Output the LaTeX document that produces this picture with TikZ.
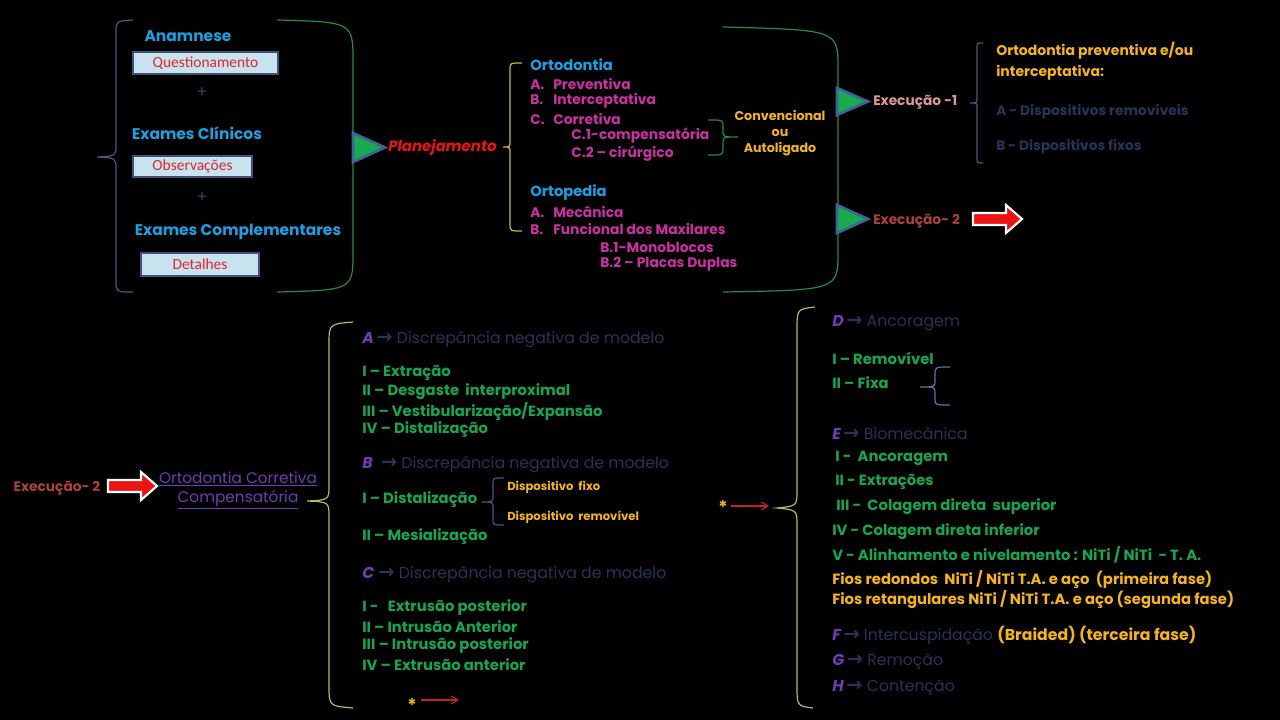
\documentclass[tikz,border=0pt]{standalone}
\usepackage{fontspec}
\setmainfont{Poppins}
\newfontfamily\calibfont{Carlito}
\newfontfamily\djvfont{DejaVu Sans}
\usetikzlibrary{arrows.meta}
\definecolor{cyanh}{RGB}{28,160,225}
\definecolor{boxfill}{RGB}{200,226,240}
\definecolor{boxline}{RGB}{62,82,120}
\definecolor{boxred}{RGB}{222,40,40}
\definecolor{plusc}{RGB}{50,70,100}
\definecolor{bgray}{RGB}{70,90,125}
\definecolor{gline}{RGB}{40,140,60}
\definecolor{trifill}{RGB}{25,170,80}
\definecolor{triline}{RGB}{60,100,150}
\definecolor{planred}{RGB}{232,20,20}
\definecolor{ybrace}{RGB}{190,190,50}
\definecolor{mag}{RGB}{200,50,160}
\definecolor{orng}{RGB}{245,180,30}
\definecolor{exone}{RGB}{220,150,150}
\definecolor{extwo}{RGB}{170,65,60}
\definecolor{navy}{RGB}{38,52,88}
\definecolor{purp}{RGB}{112,60,180}
\definecolor{gtext}{RGB}{25,165,80}
\definecolor{bbrace}{RGB}{170,190,100}
\definecolor{fbrace}{RGB}{80,120,170}
\definecolor{arrred}{RGB}{235,20,20}
\definecolor{lnred}{RGB}{200,30,40}
\newcommand\myarr{{\djvfont\bfseries\fontsize{14.5}{14}\selectfont\char"2192}}
\newcommand\lbl[1]{\makebox[17.25pt][l]{#1}}
\newcommand\redblock[2]{\filldraw[fill=arrred, draw=white, line width=1.6pt, line join=miter] (#1,#2-6) -- (#1+33,#2-6) -- (#1+33,#2-14) -- (#1+49,#2) -- (#1+33,#2+14) -- (#1+33,#2+6) -- (#1,#2+6) -- cycle;}
\begin{document}
\begin{tikzpicture}[x=0.75pt,y=-0.75pt,
  every node/.style={inner sep=0pt},
  tl/.style={font=\bfseries\fontsize{11.6}{14}\selectfont, text=cyanh},
  boxst/.style={draw=boxline, line width=1.8pt, fill=boxfill, text=boxred, font=\calibfont\fontsize{11.6}{13}\selectfont},
  plus/.style={font=\fontsize{12}{14}\selectfont, text=plusc},
  plan/.style={font=\bfseries\itshape\fontsize{11.2}{14}\selectfont, text=planred, anchor=west},
  midh/.style={font=\bfseries\fontsize{11}{13}\selectfont, text=cyanh, anchor=west},
  midm/.style={font=\bfseries\fontsize{10.4}{12}\selectfont, text=mag, anchor=west},
  conv/.style={font=\bfseries\fontsize{9.5}{12}\selectfont, text=orng, align=center},
  exa/.style={font=\bfseries\fontsize{10.3}{12}\selectfont, text=exone, anchor=west},
  exb/.style={font=\bfseries\fontsize{10.3}{12}\selectfont, text=extwo, anchor=west},
  tro/.style={font=\bfseries\fontsize{10.5}{12}\selectfont, text=orng, anchor=west},
  trn/.style={font=\bfseries\fontsize{10.3}{12}\selectfont, text=navy, anchor=west},
  occ/.style={font=\fontsize{11.5}{14.25}\selectfont, text=purp, align=center},
  bg/.style={font=\bfseries\fontsize{11.1}{13}\selectfont, text=gtext, anchor=west},
  bo/.style={font=\bfseries\fontsize{11.1}{13}\selectfont, text=orng, anchor=west},
  bh/.style={font=\fontsize{11.8}{14}\selectfont, text=navy, anchor=west},
  disp/.style={font=\bfseries\fontsize{8.7}{10}\selectfont, text=orng, anchor=west},
  stars/.style={font=\bfseries\fontsize{13}{14}\selectfont, text=orng},
  redln/.style={draw=lnred, line width=0.8pt, -{Straight Barb[length=5pt,width=6pt]}},
  tri/.style={fill=trifill, draw=triline, line width=2pt, line join=miter}
]
\fill[black] (0,0) rectangle (1280,720);
\useasboundingbox (0,0) rectangle (1280,720);

% ---------- top-left group ----------
\draw[bgray, line width=0.9pt] (133,20) .. controls (116,21) .. (116,32) -- (116,145) .. controls (116,156) .. (97,157) .. controls (116,158) .. (116,169) -- (116,281) .. controls (116,292) .. (133,292);
\draw[gline, line width=0.9pt] (277,20) .. controls (353,22) .. (353,62) -- (353,252) .. controls (353,290) .. (277,292);

\node[tl] (anam) at (188,36) {Anamnese};
\node[boxst, minimum width=108.75pt, minimum height=16.5pt] (quest) at (205.5,63) {Questionamento};
\node[plus] (p1) at (202,93) {+};
\node[tl] (exc) at (197,133) {Exames Clínicos};
\node[boxst, minimum width=89.25pt, minimum height=15.75pt] (obs) at (192.5,166.5) {Observações};
\node[plus] (p2) at (202,198) {+};
\node[tl] (excomp) at (238,232) {Exames Complementares};
\node[boxst, minimum width=88.5pt, minimum height=17.25pt] (det) at (200,264.5) {Detalhes};

% ---------- planejamento ----------
\filldraw[tri] (353,133) -- (385,147.5) -- (353,162) -- cycle;
\node[plan] (plan) at (388,148) {Planejamento};

\draw[ybrace, line width=0.9pt] (522,63) .. controls (510,63) .. (510,70) -- (510,141) .. controls (510,147) .. (503,147) .. controls (510,147) .. (510,153) -- (510,224) .. controls (510,231) .. (522,231);

\node[midh] (orto) at (530,65) {Ortodontia};
\node[midm] (oa) at (530,84) {\lbl{A.}Preventiva};
\node[midm] (ob) at (530,101) {\lbl{B.}Interceptativa};
\node[midm] (oc) at (530,119) {\lbl{C.}Corretiva};
\node[midm] (oc1) at (571,136) {C.1-compensatória};
\node[midm] (oc2) at (571,154) {C.2 – cirúrgico};
\node[midh] (orte) at (530,193) {Ortopedia};
\node[midm] (pa) at (530,212) {\lbl{A.}Mecânica};
\node[midm] (pb) at (530,229) {\lbl{B.}Funcional dos Maxilares};
\node[midm] (pb1) at (600,247) {B.1-Monoblocos};
\node[midm] (pb2) at (600,264) {B.2 – Placas Duplas};

\draw[gline, line width=0.9pt] (708,120) .. controls (723,120) .. (723,126) -- (723,131) .. controls (723,137) .. (738,137) .. controls (723,137) .. (723,143) -- (723,149) .. controls (723,155) .. (708,155);
\node[conv] (conv) at (780,133) {Convencional\\ou\\Autoligado};

\draw[gline, line width=0.9pt] (723,27) .. controls (838,30) .. (838,68) -- (838,252) .. controls (838,290) .. (723,292);

% ---------- execution ----------
\filldraw[tri] (837,88) -- (868,101.5) -- (837,115) -- cycle;
\filldraw[tri] (837,205) -- (868,219) -- (837,233) -- cycle;
\node[exa] (e1) at (873,102) {Execução -1};
\node[exb] (e2) at (873,221) {Execução- 2};
\redblock{973}{219}

\draw[bgray, line width=0.9pt] (983,43) .. controls (977,43) .. (977,48) -- (977,98) .. controls (977,103) .. (970,103) .. controls (977,103) .. (977,108) -- (977,158) .. controls (977,163) .. (983,163);
\node[tro] (t1) at (996,51) {Ortodontia preventiva e/ou};
\node[tro] (t2) at (996,73) {interceptativa:};
\node[trn] (t3) at (996,112) {A - Dispositivos removíveis};
\node[trn] (t4) at (996,147) {B - Dispositivos fixos};

% ---------- bottom-left ----------
\node[exb, anchor=center] (e2b) at (57,488) {Execução- 2};
\redblock{108}{486}
\node[occ] (occ) at (238,490) {\underline{Ortodontia Corretiva}\\\underline{Compensatória}};

\draw[bbrace, line width=0.9pt] (353,322) .. controls (329,324) .. (329,345) -- (329,485) .. controls (329,500) .. (307,501) .. controls (329,502) .. (329,517) -- (329,685) .. controls (329,706) .. (353,708);

% ---------- bottom-middle ----------
\node[bh] (ha) at (362,340) {{\bfseries\itshape\color{purp}A}\,\myarr\ Discrepância negativa de modelo};
\node[bg] (a1) at (362,373) {I – Extração};
\node[bg] (a2) at (362,392) {II – Desgaste\ \ interproximal};
\node[bg] (a3) at (362,411) {III – Vestibularização/Expansão};
\node[bg] (a4) at (362,430) {IV – Distalização};
\node[bh] (hb) at (362,465) {{\bfseries\itshape\color{purp}B}\ \ \myarr\ Discrepância negativa de modelo};
\node[bg] (b1) at (362,500) {I – Distalização};
\draw[bgray, line width=0.9pt] (504,478) .. controls (493,478) .. (493,484) -- (493,496) .. controls (493,502) .. (482,502) .. controls (493,502) .. (493,508) -- (493,519) .. controls (493,525) .. (504,525);
\node[disp] (d1) at (507,487) {Dispositivo\ \ fixo};
\node[disp] (d2) at (507,517) {Dispositivo\ \ removível};
\node[bg] (b2) at (362,537) {II – Mesialização};
\node[bh] (hc) at (362,575) {{\bfseries\itshape\color{purp}C}\ \myarr\ Discrepância negativa de modelo};
\node[bg] (c1) at (362,608) {I -\ \ \ Extrusão posterior};
\node[bg] (c2) at (362,627) {II – Intrusão\ Anterior};
\node[bg] (c3) at (362,646) {III – Intrusão posterior};
\node[bg] (c4) at (362,665) {IV – Extrusão anterior};
\node[stars] (s1) at (412,705) {*};
\coordinate (s1a) at (421,700);
\coordinate (s1b) at (459,700);
\draw[redln] (s1a) -- (s1b);

% ---------- bottom-right ----------
\draw[bbrace, line width=0.9pt] (815,307) .. controls (797,309) .. (797,330) -- (797,490) .. controls (797,506) .. (777,508) .. controls (797,510) .. (797,526) -- (797,685) .. controls (797,706) .. (813,708);
\node[stars] (s2) at (723,507) {*};
\coordinate (s2a) at (731,506);
\coordinate (s2b) at (769,506);
\draw[redln] (s2a) -- (s2b);

\node[bh] (hd) at (832,323) {{\bfseries\itshape\color{purp}D}\,\myarr\ Ancoragem};
\node[bg] (d1r) at (832,358) {I – Removível};
\node[bg] (d2r) at (832,383) {II – Fixa};
\draw[fbrace, line width=0.9pt] (950,367) .. controls (935,367) .. (935,375) -- (935,381) .. controls (935,387) .. (920,387) .. controls (935,387) .. (935,393) -- (935,399) .. controls (935,405) .. (950,405);
\node[bh] (he) at (832,434) {{\bfseries\itshape\color{purp}E}\,\myarr\ Biomecânica};
\node[bg] (e1r) at (835,458) {I -\ \ Ancoragem};
\node[bg] (e2r) at (835,482) {II - Extrações};
\node[bg] (e3r) at (836,507) {III -\ \ Colagem direta\ \ superior};
\node[bg] (e4r) at (832,532) {IV - Colagem direta inferior};
\node[bg] (e5r) at (832,555) {V - Alinhamento e nivelamento : NiTi / NiTi\ \ - T. A.};
\node[bo] (f1r) at (832,579) {Fios redondos\ \ NiTi / NiTi T.A. e aço\ \ (primeira fase)};
\node[bo] (f2r) at (832,599) {Fios retangulares NiTi / NiTi T.A. e aço (segunda fase)};
\node[bh] (hf) at (832,635) {{\bfseries\itshape\color{purp}F}\,\myarr\ Intercuspidação {\bfseries\color{orng}(Braided) (terceira fase)}};
\node[bh] (hg) at (832,662) {{\bfseries\itshape\color{purp}G}\,\myarr\ Remoção};
\node[bh] (hh) at (832,688) {{\bfseries\itshape\color{purp}H}\,\myarr\ Contenção};
\end{tikzpicture}
\end{document}
